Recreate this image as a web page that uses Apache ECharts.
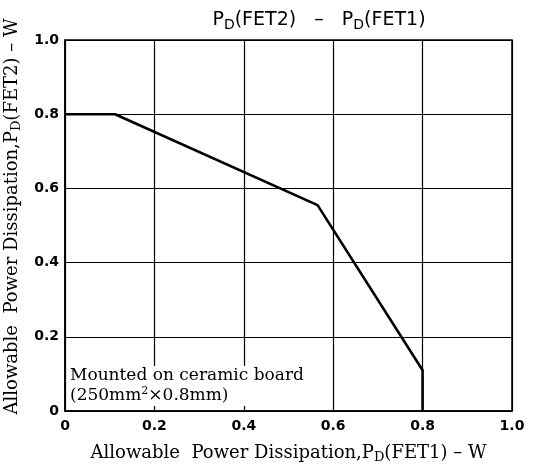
<!DOCTYPE html>
<html><head><meta charset="utf-8">
<script src="https://cdn.jsdelivr.net/npm/echarts@6/dist/echarts.min.js"></script>
<style>html,body{margin:0;padding:0;background:#fff}#c{width:542px;height:464px}</style>
</head><body><div id="c"></div>
<script>
const xValues = [0, 0.112, 0.565, 0.8, 0.8];
const yValues = [0.8, 0.8, 0.555, 0.11, 0];
const tickLabels = ['0', '0.2', '0.4', '0.6', '0.8', '1.0'];
const noteLines = ['Mounted on ceramic board', '(250mm{sup|2}×0.8mm)'];

const chart = echarts.init(document.getElementById('c'));
const serif = 'DejaVu Serif';
const sans = 'DejaVu Sans';
const tickFmt = v => { const i = Math.round(v / 0.2); return tickLabels[i] ?? ''; };
chart.setOption({
  animation: false,
  backgroundColor: '#fff',
  title: {
    text: 'P{sub|D}(FET2)   –   P{sub|D}(FET1)',
    left: 314, textAlign: 'center', top: 3,
    textStyle: {
      fontFamily: sans, fontSize: 19, fontWeight: 'normal', color: '#000',
      rich: { sub: { fontFamily: sans, fontSize: 14, color: '#000', padding: [10, 0, 0, 0] } }
    }
  },
  grid: { left: 65, right: 30, top: 40, bottom: 53, outerBoundsMode: 'none', containLabel: false },
  xAxis: {
    type: 'value', min: 0, max: 1, interval: 0.2,
    name: 'Allowable  Power Dissipation,P{sub|D}(FET1) – W',
    nameLocation: 'middle', nameGap: 31,
    nameTextStyle: {
      fontFamily: serif, fontSize: 18, color: '#000',
      rich: { sub: { fontFamily: serif, fontSize: 13, color: '#000', padding: [9, 0, 0, 0] } }
    },
    axisLine: { show: true, lineStyle: { color: '#000', width: 1.5 } },
    axisTick: { show: false },
    axisLabel: { formatter: tickFmt, fontFamily: sans, fontWeight: 'bold', fontSize: 14, color: '#000', margin: 8 },
    splitLine: { show: true, lineStyle: { color: '#000', width: 1.2 } }
  },
  yAxis: {
    type: 'value', min: 0, max: 1, interval: 0.2,
    name: 'Allowable  Power Dissipation,P{sub|D}(FET2) – W',
    nameLocation: 'middle', nameGap: 42, nameRotate: 90,
    nameTextStyle: {
      fontFamily: serif, fontSize: 18, color: '#000', padding: [0, 0, 0, 18],
      rich: { sub: { fontFamily: serif, fontSize: 13, color: '#000', padding: [9, 0, 0, 0] } }
    },
    axisLine: { show: true, lineStyle: { color: '#000', width: 1.5 } },
    axisTick: { show: false },
    axisLabel: { formatter: tickFmt, fontFamily: sans, fontWeight: 'bold', fontSize: 14, color: '#000', margin: 6 },
    splitLine: { show: true, lineStyle: { color: '#000', width: 1.2 } }
  },
  graphic: [
    { type: 'rect', shape: { x: 65, y: 40, width: 447, height: 371 }, style: { fill: 'none', stroke: '#000', lineWidth: 1.5 }, z: 10, silent: true },
    { type: 'text', left: 68, top: 366, z: 5,
      style: { text: noteLines.join('\n'), fontFamily: serif, fontSize: 17, fill: '#000', lineHeight: 20,
        backgroundColor: '#fff', padding: [0, 2, 0, 2],
        rich: { sup: { fontFamily: serif, fontSize: 11, fill: '#000', padding: [0, 0, 9, 0] } } } }
  ],
  series: [{
    type: 'line', data: xValues.map((x, i) => [x, yValues[i]]),
    showSymbol: false, symbol: 'none',
    lineStyle: { color: '#000', width: 2.6 }, z: 3
  }]
});
</script></body></html>
